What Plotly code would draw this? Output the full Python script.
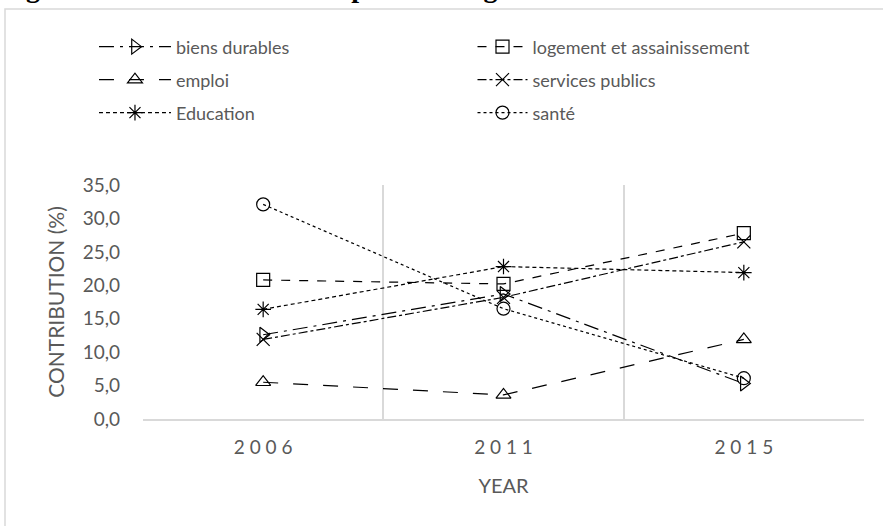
import plotly.graph_objects as go

# Survey years on the category axis
years = ["2006", "2011", "2015"]
year_labels = ["2 0 0 6", "2 0 1 1", "2 0 1 5"]

# Contribution of each dimension to the global MPI (%)
biens_durables = [12.6, 18.7, 5.3]
logement = [20.8, 20.2, 27.8]
emploi = [5.5, 3.6, 11.9]
services_publics = [11.9, 18.2, 26.5]
education = [16.4, 22.8, 21.9]
sante = [32.1, 16.5, 6.1]

series = [
    ("biens durables", biens_durables, "longdashdot", "triangle-right-open"),
    ("logement et assainissement", logement, "dash", "square-open"),
    ("emploi", emploi, "longdash", "triangle-up-open"),
    ("services publics", services_publics, "dashdot", "x-thin-open"),
    ("Education", education, "4px,3px", "asterisk-open"),
    ("santé", sante, "dot", "circle-open"),
]

fig = go.Figure()
legend_ids = ["legend", "legend2", "legend3", "legend4", "legend5", "legend6"]
for (name, vals, dash, symbol), leg in zip(series, legend_ids):
    fig.add_trace(go.Scatter(
        x=years, y=vals, name=name, mode="lines+markers",
        line=dict(color="black", width=1.2, dash=dash),
        marker=dict(symbol=symbol, size=13, color="black",
                    line=dict(color="black", width=1.2)),
        legend=leg,
    ))

grey = "#595959"
frame = "#d9d9d9"


def legend_box(x, y, itemwidth):
    return dict(orientation="h", x=x, y=y, xanchor="left", yanchor="middle",
                font=dict(family="Lato", size=18, color=grey),
                itemwidth=itemwidth, bgcolor="rgba(0,0,0,0)")


# two columns, three rows
rows = [1.59, 1.449, 1.308]
left_x, right_x = -0.068, 0.457

fig.update_layout(
    width=883, height=526,
    margin=dict(l=143, r=19, t=185, b=107),
    paper_bgcolor="white", plot_bgcolor="white",
    separators=", ",
    font=dict(family="Lato", size=18, color=grey),
    showlegend=True,
    legend=legend_box(left_x, rows[0], 72),
    legend2=legend_box(right_x, rows[0], 50),
    legend3=legend_box(left_x, rows[1], 72),
    legend4=legend_box(right_x, rows[1], 50),
    legend5=legend_box(left_x, rows[2], 72),
    legend6=legend_box(right_x, rows[2], 50),
    xaxis=dict(
        type="category", range=[-0.5, 2.5],
        tickmode="array", tickvals=years, ticktext=year_labels,
        tickson="boundaries", ticks="", showgrid=True,
        gridcolor=frame, gridwidth=1.5,
        showline=True, linecolor=frame, linewidth=1.5,
        ticklabelstandoff=10,
        tickfont=dict(size=19, color=grey),
        title=dict(text="YEAR", font=dict(size=20, color=grey), standoff=22),
    ),
    yaxis=dict(
        range=[0, 35], dtick=5, tickformat=".1f", showgrid=False,
        zeroline=False, showline=False, ticks="", ticklabelstandoff=22,
        tickfont=dict(size=19, color=grey),
        title=dict(text="CONTRIBUTION (%)", font=dict(size=21, color=grey), standoff=12),
    ),
    shapes=[
        # outer chart frame running off the right and bottom edges
        dict(type="rect", xref="paper", yref="paper",
             x0=-0.1914, x1=1.05, y0=-0.55, y1=1.752,
             line=dict(color=frame, width=1.5), layer="below"),
    ],
    annotations=[
        dict(text="<b>Figure 3: Dimensional decomposition of global MPI between 2006 and 2015</b>",
             xref="paper", yref="paper", x=-0.2, y=1.768,
             xanchor="left", yanchor="bottom", showarrow=False,
             font=dict(family="Liberation Serif", size=28, color="black")),
    ],
)

fig.write_html("out.html")
